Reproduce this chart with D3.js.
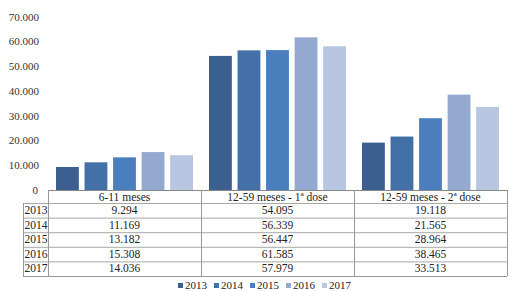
<!DOCTYPE html>
<html>
<head>
<meta charset="utf-8">
<script src="https://d3js.org/d3.v7.min.js"></script>
<style>
  html, body { margin: 0; padding: 0; background: #fff; }
  svg { display: block; }
  text { font-family: "Liberation Serif", "Times New Roman", serif; fill: #222; }
</style>
</head>
<body>
<svg id="chart" width="509" height="291"></svg>
<script>
// data
const categories = ["6-11 meses", "12-59 meses - 1ª dose", "12-59 meses - 2ª dose"];
const years = ["2013", "2014", "2015", "2016", "2017"];
const values = {
  "2013": [9294, 54095, 19118],
  "2014": [11169, 56339, 21565],
  "2015": [13182, 56447, 28964],
  "2016": [15308, 61585, 38465],
  "2017": [14036, 57979, 33513]
};
const yTicks = [0, 10000, 20000, 30000, 40000, 50000, 60000, 70000];
const colors = ["#3b5f8e", "#4470a8", "#4b7ebd", "#94a9cf", "#b8c6e2"];

const svg = d3.select("#chart");
const left = 48, right = 507, base = 190;

const y = d3.scaleLinear().domain([0, 70000]).range([base, 16.5]);
const x0 = d3.scaleBand().domain(categories).range([left, right]);
const x1 = d3.scaleBand().domain(years).range([8, x0.bandwidth() - 8]).paddingInner(0.2);
const color = d3.scaleOrdinal().domain(years).range(colors);
const fmt = d3.formatLocale({ decimal: ",", thousands: ".", grouping: [3], currency: ["", ""] }).format(",d");

// y labels
svg.append("g").selectAll("text").data(yTicks).join("text")
  .attr("x", d => d === 0 ? 38 : 39).attr("y", d => y(d) + 4)
  .attr("text-anchor", "end").style("font-size", "11px").style("fill", "#333")
  .text(d => fmt(d));

// bars
const groups = svg.append("g").selectAll("g").data(categories).join("g")
  .attr("transform", d => `translate(${x0(d)},0)`);
groups.selectAll("rect").data((c, i) => years.map(yr => ({ yr, v: values[yr][i] }))).join("rect")
  .attr("x", d => x1(d.yr)).attr("width", x1.bandwidth())
  .attr("y", d => y(d.v)).attr("height", d => base - y(d.v))
  .attr("fill", d => color(d.yr));

// table
const rowTop = 203, rowH = 14.6;
const tbl = svg.append("g");
const lineC = "#a8a8a8";
tbl.append("line").attr("x1", left).attr("x2", right).attr("y1", base + 0.5).attr("y2", base + 0.5).attr("stroke", "#888");
years.forEach((yr, i) => {
  const yy = rowTop + i * rowH;
  tbl.append("line").attr("x1", 23).attr("x2", right).attr("y1", yy + 0.5).attr("y2", yy + 0.5).attr("stroke", lineC);
});
const bottom = rowTop + years.length * rowH;
tbl.append("line").attr("x1", 23).attr("x2", right).attr("y1", bottom + 0.5).attr("y2", bottom + 0.5).attr("stroke", "#999");
tbl.append("line").attr("x1", 23.5).attr("x2", 23.5).attr("y1", rowTop).attr("y2", bottom).attr("stroke", "#999");
[left, x0(categories[1]), x0(categories[2]), right].forEach(xx => {
  tbl.append("line").attr("x1", Math.round(xx) + 0.5).attr("x2", Math.round(xx) + 0.5)
    .attr("y1", base).attr("y2", bottom).attr("stroke", "#999");
});
// header texts
tbl.selectAll("text.h").data(categories).join("text").attr("class", "h")
  .attr("x", d => x0(d) + x0.bandwidth() / 2).attr("y", base + 10.5)
  .attr("text-anchor", "middle").style("font-size", "11.5px").text(d => d);
// year labels and values
years.forEach((yr, i) => {
  const yy = rowTop + i * rowH + 11;
  tbl.append("text").attr("x", 24.5).attr("y", yy).style("font-size", "11.5px").text(yr);
  categories.forEach((c, j) => {
    tbl.append("text").attr("x", x0(c) + x0.bandwidth() / 2).attr("y", yy)
      .attr("text-anchor", "middle").style("font-size", "11.5px").text(fmt(values[yr][j]));
  });
});

// legend
const leg = svg.append("g").selectAll("g").data(years).join("g")
  .attr("transform", (d, i) => `translate(${178 + i * 36},0)`);
leg.append("rect").attr("x", 0).attr("y", 283).attr("width", 5).attr("height", 5).attr("fill", d => color(d));
leg.append("text").attr("x", 7).attr("y", 289).style("font-size", "11px").text(d => d);
</script>
</body>
</html>
